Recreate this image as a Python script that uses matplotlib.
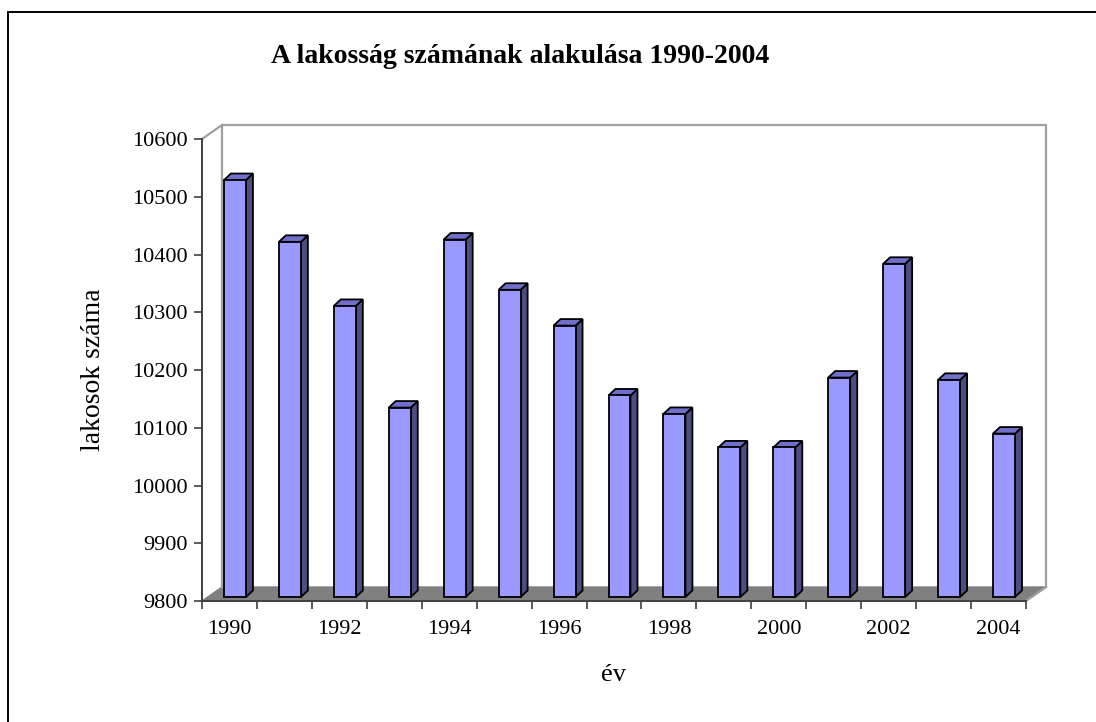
"""Lakossag alakulasa 1990-2004 - 3D-s oszlopdiagram utanzata."""
import matplotlib
matplotlib.use("Agg")
import matplotlib.pyplot as plt
from matplotlib.patches import Polygon, Rectangle

plt.rcParams["font.family"] = ["Liberation Serif", "DejaVu Serif"]

years = [1990, 1991, 1992, 1993, 1994, 1995, 1996, 1997, 1998, 1999,
         2000, 2001, 2002, 2003, 2004]
lakosok = [10522, 10415, 10304, 10128, 10419, 10332, 10270, 10149, 10117,
           10059, 10059, 10180, 10377, 10176, 10083]
y_ticks = [9800, 9900, 10000, 10100, 10200, 10300, 10400, 10500, 10600]
x_labels = [1990, 1992, 1994, 1996, 1998, 2000, 2002, 2004]

title = "A lakosság számának alakulása 1990-2004"
ylabel = "lakosok száma"
xlabel = "év"

W, H = 1096, 722
fig = plt.figure(figsize=(W / 100, H / 100), dpi=100)

# pixel geometry of the plot area (front axis corner, scales)
X0, Y0 = 202, 601
CW = 824 / 15          # px per category
S = 462 / 800          # px per value unit
x_lo = years[0] - 0.5
x_hi = years[-1] + 0.5
y_lo, y_hi = y_ticks[0], y_ticks[-1]

FDX, FDY = 20 / CW, 14 / S      # floor / wall depth
BDX, BDY = 7 / CW, 6.5 / S      # bar depth
BOFF = 4 / S                    # bars stand a bit back on the floor

ax_w = 844
ax_h = Y0 - 126
ax = fig.add_axes([X0 / W, (H - Y0) / H, ax_w / W, ax_h / H])
ax.set_xlim(x_lo, x_lo + ax_w / CW)
ax.set_ylim(y_lo, y_lo + ax_h / S)
ax.patch.set_visible(False)

# floor
ax.add_patch(Polygon([(x_lo, y_lo), (x_hi, y_lo), (x_hi + FDX, y_lo + FDY),
                      (x_lo + FDX, y_lo + FDY)], closed=True,
                     facecolor="#808080", edgecolor="#808080", lw=1,
                     clip_on=False, zorder=1))
# back walls
wall = "#a0a0a0"
ax.plot([x_lo + FDX, x_lo + FDX, x_hi + FDX, x_hi + FDX],
        [y_lo + FDY, y_hi + FDY, y_hi + FDY, y_lo + FDY],
        color=wall, lw=1.6, clip_on=False, zorder=1)
ax.plot([x_lo, x_lo + FDX], [y_hi, y_hi + FDY], color=wall, lw=1.6,
        clip_on=False, zorder=1)
ax.plot([x_hi, x_hi + FDX], [y_lo, y_lo + FDY], color=wall, lw=1.6,
        clip_on=False, zorder=1)

# bars: front faces through ax.bar, side and top as polygons
heights = [v - y_lo for v in lakosok]
ax.bar([y + 0.1 for y in years], heights, width=0.4, bottom=y_lo + BOFF,
       color="#9999ff", edgecolor="black", lw=1.3, zorder=3, clip_on=False)
for yr, v in zip(years, lakosok):
    l, r = yr - 0.1, yr + 0.3
    b, t = y_lo + BOFF, v + BOFF
    ax.add_patch(Polygon([(r, b), (r + BDX, b + BDY), (r + BDX, t + BDY), (r, t)],
                         closed=True, facecolor="#4d4d80", edgecolor="black",
                         lw=1.3, zorder=2, clip_on=False))
    ax.add_patch(Polygon([(l, t), (r, t), (r + BDX, t + BDY), (l + BDX, t + BDY)],
                         closed=True, facecolor="#7070cc", edgecolor="black",
                         lw=1.3, zorder=2, clip_on=False))

# axes
for side in ["top", "right"]:
    ax.spines[side].set_visible(False)
ax.spines["left"].set_bounds(y_lo, y_hi)
ax.spines["bottom"].set_bounds(x_lo, x_hi)
for side in ["left", "bottom"]:
    ax.spines[side].set_color("#404040")
    ax.spines[side].set_linewidth(1.4)
    ax.spines[side].set_zorder(4)

ax.set_yticks(y_ticks)
ax.set_yticklabels([str(v) for v in y_ticks])
ax.tick_params(axis="y", direction="out", length=5.5, width=1.2,
               color="#404040", labelsize=16, pad=5)

ax.set_xticks([x_lo + i for i in range(len(years) + 1)])
ax.set_xticklabels([])
ax.set_xticks(x_labels, minor=True)
ax.set_xticklabels([str(v) for v in x_labels], minor=True)
ax.tick_params(axis="x", which="major", direction="out", length=6,
               width=1.2, color="#404040")
ax.tick_params(axis="x", which="minor", length=0, labelsize=16, pad=14)

# texts
fig.text(520 / W, 1 - 63 / H, title, ha="center", va="baseline",
         fontsize=20, fontweight="bold")
fig.text(94 / W, 1 - 370 / H, ylabel, ha="center", va="center",
         rotation=90, fontsize=20)
fig.text(614 / W, 1 - 681 / H, xlabel, ha="center", va="baseline",
         fontsize=19)

# outer chart border (cut off at right and bottom)
fig.add_artist(Rectangle((8 / W, -0.1), 1.2, 1.1 - 12 / H,
                         transform=fig.transFigure, fill=False,
                         edgecolor="black", lw=1.4))

fig.savefig("out.png", dpi=100)
